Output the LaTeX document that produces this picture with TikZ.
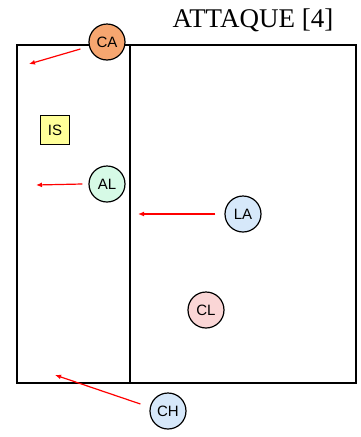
\documentclass[tikz,border=0pt]{standalone}
\usepackage{fontspec}
\setmainfont{Liberation Serif}
\setsansfont{Liberation Sans}
\usetikzlibrary{arrows.meta}
\begin{document}
\begin{tikzpicture}[x=1pt,y=-1pt]
\tikzstyle{player}=[circle,draw,line width=1.2pt,minimum size=36pt,inner sep=0pt,font=\sffamily\fontsize{15}{15}\selectfont]
\tikzstyle{move}=[red,line width=1.2pt,-{Latex[length=6pt,width=5pt]}]
\useasboundingbox (0,0) rectangle (361,437);
\draw[line width=2pt] (17,45) rectangle (356,383);
\draw[line width=1.3pt] (130,45) -- (130,383);
\node[font=\fontsize{27}{27}\selectfont] (title) at (253,20) {ATTAQUE [4]};
\node[draw,line width=1pt,fill={rgb,255:red,255;green,255;blue,153},minimum size=29pt,inner sep=0pt,font=\sffamily\fontsize{15}{15}\selectfont] (is) at (55,130) {IS};
\node[player,fill={rgb,255:red,246;green,166;blue,112}] (ca) at (107,42) {CA};
\node[player,fill={rgb,255:red,214;green,250;blue,230}] (al) at (107,184) {AL};
\node[player,fill={rgb,255:red,214;green,232;blue,250}] (la) at (243,214) {LA};
\node[player,fill={rgb,255:red,250;green,214;blue,214}] (cl) at (206,310) {CL};
\node[player,fill={rgb,255:red,214;green,232;blue,250}] (ch) at (168,411) {CH};
\coordinate (ca end) at (29,64);
\coordinate (al end) at (36,185);
\coordinate (la end) at (138,214);
\coordinate (ch end) at (55,375);
\draw[move] ([xshift=-8pt,yshift=-7pt]ca.west) -- (ca end);
\draw[move] ([xshift=-6pt]al.west) -- (al end);
\draw[move] ([xshift=-9pt]la.west) -- (la end);
\draw[move] ([xshift=-9pt,yshift=7pt]ch.west) -- (ch end);
\end{tikzpicture}
\end{document}
